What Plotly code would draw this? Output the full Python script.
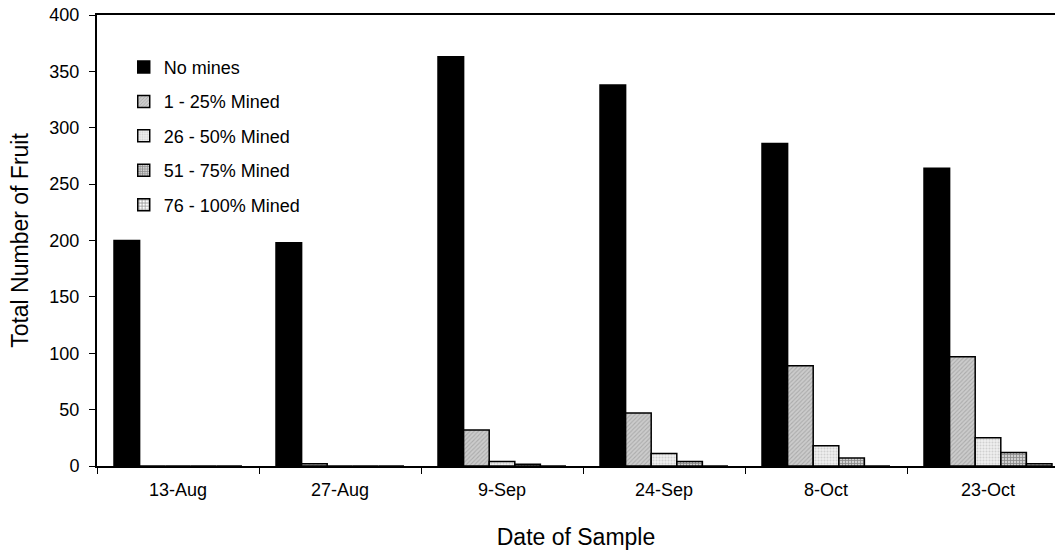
import plotly.graph_objects as go

dates = ["13-Aug", "27-Aug", "9-Sep", "24-Sep", "8-Oct", "23-Oct"]
no_mines = [200, 198, 363, 338, 286, 264]
mined_1_25 = [0, 2, 32, 47, 89, 97]
mined_26_50 = [0, 0, 4, 11, 18, 25]
mined_51_75 = [0, 0, 1.5, 4, 7, 12]
mined_76_100 = [0, 0, 0, 0, 0, 2]

font = "Liberation Sans, Arial, sans-serif"

series = [
    ("No mines", no_mines, dict(color="black")),
    ("1 - 25% Mined", mined_1_25,
     dict(color="#c0c0c0", pattern=dict(shape="/", fgcolor="#8a8a8a", bgcolor="#cccccc", size=3, solidity=0.35))),
    ("26 - 50% Mined", mined_26_50,
     dict(color="#eeeeee", pattern=dict(shape=".", fgcolor="#b0b0b0", bgcolor="#f0f0f0", size=3, solidity=0.4))),
    ("51 - 75% Mined", mined_51_75,
     dict(color="#888888", pattern=dict(shape="+", fgcolor="#404040", bgcolor="#d0d0d0", size=3, solidity=0.45))),
    ("76 - 100% Mined", mined_76_100,
     dict(color="#ffffff", pattern=dict(shape="+", fgcolor="#1a1a1a", bgcolor="#ffffff", size=4, solidity=0.4))),
]

fig = go.Figure()
for i, (name, vals, marker) in enumerate(series):
    marker["line"] = dict(color="black", width=1.5)
    fig.add_trace(go.Bar(x=dates, y=vals, name=name, marker=marker, legendgroup=f"g{i}"))

fig.update_layout(
    width=1055,
    height=552,
    margin=dict(l=97, r=0, t=15, b=86),
    paper_bgcolor="white",
    plot_bgcolor="white",
    barmode="group",
    bargap=0.21,
    bargroupgap=0,
    font=dict(family=font, size=18, color="black"),
    legend=dict(
        x=0.0279, y=0.925, xanchor="left", yanchor="top",
        bgcolor="rgba(0,0,0,0)", font=dict(size=18),
        tracegroupgap=8, itemwidth=30,
    ),
    xaxis=dict(
        # last category runs past the right edge, as in the original
        range=[-0.5, -0.5 + 958 / 162],
        showline=True, linecolor="black", linewidth=2, mirror=True,
        ticks="outside", tickson="boundaries", ticklen=6, tickcolor="black",
        tickfont=dict(size=18), automargin=False, ticklabelstandoff=6,
        title=dict(text="Date of Sample", font=dict(size=23), standoff=30),
        showgrid=False,
    ),
    yaxis=dict(
        range=[0, 400], dtick=50,
        showline=True, linecolor="black", linewidth=2,
        ticks="outside", ticklen=6, tickcolor="black",
        tickfont=dict(size=18), automargin=False, ticklabelstandoff=6,
        title=dict(text="Total Number of Fruit", font=dict(size=23), standoff=14),
        showgrid=False, zeroline=False,
    ),
)

# drop the default page margin so the figure sits at the window corner
fig.write_html(
    "out.html",
    config={"displayModeBar": False},
    post_script="document.body.style.margin='0px';",
)
